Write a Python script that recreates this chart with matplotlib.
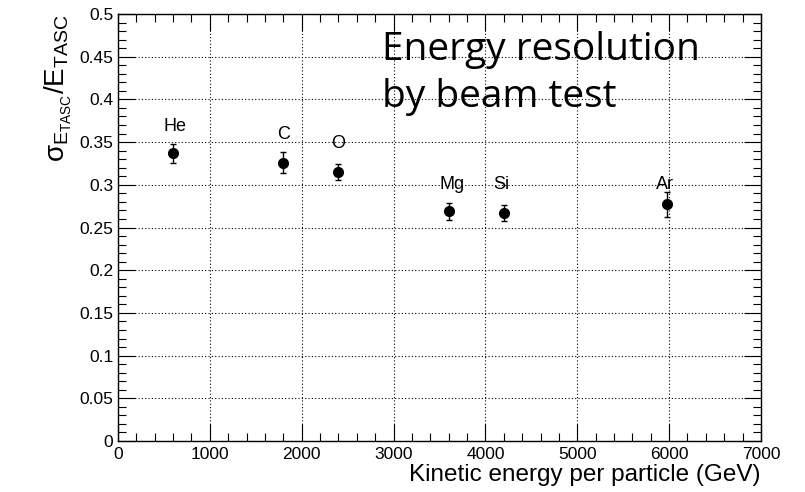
import matplotlib.pyplot as plt
import matplotlib.ticker as ticker

plt.rcParams["font.family"] = ["Liberation Sans", "DejaVu Sans"]
plt.rcParams["mathtext.fontset"] = "custom"
plt.rcParams["mathtext.rm"] = "Liberation Sans"
plt.rcParams["mathtext.it"] = "Liberation Sans"
plt.rcParams["mathtext.default"] = "rm"

# beam test points: element, kinetic energy per particle (GeV), resolution, error
elements = ["He", "C", "O", "Mg", "Si", "Ar"]
energy = [600, 1800, 2400, 3600, 4200, 5980]
resolution = [0.337, 0.326, 0.315, 0.269, 0.267, 0.277]
res_err = [0.011, 0.012, 0.009, 0.010, 0.009, 0.015]
# label anchor (x, baseline y) in data coords
label_x = [620, 1800, 2400, 3640, 4170, 5955]
label_y = [0.363, 0.354, 0.343, 0.295, 0.295, 0.295]

fig = plt.figure(figsize=(8.05, 4.92), dpi=100)
ax = fig.add_axes([0.1466, 0.1037, 0.7987, 0.8678])

ax.errorbar(energy, resolution, yerr=res_err, fmt="o", color="black",
            markersize=7, elinewidth=1, capsize=2, capthick=1, zorder=3)

for name, x, y in zip(elements, label_x, label_y):
    ax.text(x, y, name, fontsize=13, ha="center", va="baseline", color="black")

ax.set_xlim(0, 7000)
ax.set_ylim(0, 0.5)
ax.xaxis.set_major_locator(ticker.MultipleLocator(1000))
ax.xaxis.set_minor_locator(ticker.MultipleLocator(200))
ax.yaxis.set_major_locator(ticker.MultipleLocator(0.05))
ax.yaxis.set_minor_locator(ticker.MultipleLocator(0.01))
ax.yaxis.set_major_formatter(ticker.FuncFormatter(lambda v, _: f"{v:g}"))

ax.tick_params(which="both", direction="in", top=True, right=True,
               labelsize=12.5, width=0.8)
ax.tick_params(which="major", length=12)
ax.tick_params(which="minor", length=6)
ax.tick_params(axis="x", pad=4)

ax.grid(which="major", color="black", linestyle=(0, (1, 2)), linewidth=0.8)
for spine in ax.spines.values():
    spine.set_linewidth(1.0)

ax.set_xlabel("Kinetic energy per particle (GeV)", fontsize=17.5, loc="right",
              labelpad=2)
ax.set_ylabel(r"$\sigma_{E_{TASC}}$/E$_{TASC}$", fontsize=20, loc="top",
              labelpad=4)

ax.text(0.41, 0.86, "Energy resolution\nby beam test", transform=ax.transAxes,
        fontsize=28, family=["Open Sans", "DejaVu Sans"], ha="left", va="center",
        linespacing=1.3)

fig.savefig("out.png", dpi=100)
